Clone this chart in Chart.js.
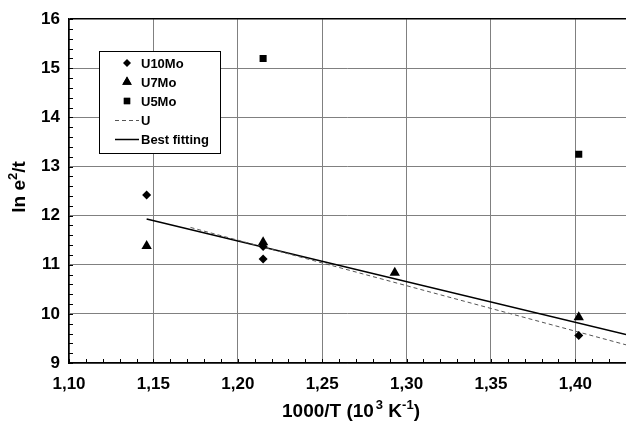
<!DOCTYPE html>
<html>
<head>
<meta charset="utf-8">
<script src="https://cdn.jsdelivr.net/npm/chart.js@4"></script>
<style>
  html, body { margin: 0; padding: 0; background: #fff; }
  #wrap { width: 626px; height: 422px; }
</style>
</head>
<body>
<div id="wrap"><canvas id="chart" width="626" height="422"></canvas></div>
<script>
// values
const u10moX = [1.146, 1.215, 1.215, 1.402]
const u10moY = [12.42, 11.37, 11.12, 9.56]
const u7moX = [1.146, 1.215, 1.293, 1.402]
const u7moY = [11.38, 11.46, 10.84, 9.93]
const u5moX = [1.215, 1.402]
const u5moY = [15.2, 13.25]
const uLineX = [1.172, 1.43]
const uLineY = [11.76, 9.37]
const fitX = [1.146, 1.43]
const fitY = [11.93, 9.58]

const seriesNames = ["U10Mo", "U7Mo", "U5Mo", "U", "Best fitting"]

const FONT = "'Liberation Sans', Arial, sans-serif"

const toPoints = (xs, ys) => xs.map((x, i) => ({ x: x, y: ys[i] }))

const pointSet = (label, xs, ys, style, radius) => ({
  label: label,
  data: toPoints(xs, ys),
  showLine: false,
  pointStyle: style,
  pointRadius: radius,
  pointHoverRadius: radius,
  pointBackgroundColor: "#000",
  pointBorderColor: "#000",
  pointBorderWidth: 0,
})

const lineSet = (label, xs, ys, color, width, dash) => ({
  label: label,
  data: toPoints(xs, ys),
  showLine: true,
  borderColor: color,
  borderWidth: width,
  borderDash: dash,
  pointRadius: 0,
  fill: false,
})

// draws text pieces one after another, some of them raised (superscripts)
const pieceWidth = (ctx, parts) => {
  let w = 0
  parts.forEach(p => {
    ctx.font = "bold " + p[1] + "px " + FONT
    w += ctx.measureText(p[0]).width
  })
  return w
}

const drawPieces = (ctx, parts, x, y) => {
  parts.forEach(p => {
    ctx.font = "bold " + p[1] + "px " + FONT
    ctx.fillText(p[0], x, y + p[2])
    x += ctx.measureText(p[0]).width
  })
}

// small inward ticks + titles with superscripts + legend box
const decorPlugin = {
  id: "decor",
  afterDatasetsDraw(chart) {
    const ctx = chart.ctx
    const xs = chart.scales.x
    const ys = chart.scales.y
    const area = chart.chartArea
    ctx.save()
    ctx.strokeStyle = "#000"
    ctx.lineWidth = 1
    ctx.beginPath()
    for (let k = 110; k <= 143; k++) {
      const px = Math.round(xs.getPixelForValue(k / 100)) + 0.5
      ctx.moveTo(px, area.bottom)
      ctx.lineTo(px, area.bottom - 4)
    }
    for (let k = 45; k <= 80; k++) {
      const py = Math.round(ys.getPixelForValue(k / 5)) + 0.5
      ctx.moveTo(area.left, py)
      ctx.lineTo(area.left + 4, py)
    }
    ctx.stroke()
    ctx.restore()
  },
  afterDraw(chart) {
    const ctx = chart.ctx
    const area = chart.chartArea
    ctx.save()
    ctx.fillStyle = "#000"
    ctx.textBaseline = "alphabetic"

    // x title: 1000/T (10^3 K^-1)
    const xparts = [
      ["1000/T (10", 19, 0],
      [" ", 7, 0],
      ["3", 13, -8],
      [" K", 19, 0],
      ["-1", 13, -8],
      [")", 19, 0],
    ]
    const xw = pieceWidth(ctx, xparts)
    drawPieces(ctx, xparts, 351 - xw / 2, 417)

    // y title: ln e^2/t
    const yparts = [
      ["ln e", 19, 0],
      ["2", 13, -8],
      ["/t", 19, 0],
    ]
    const yw = pieceWidth(ctx, yparts)
    ctx.translate(25, 187)
    ctx.rotate(-Math.PI / 2)
    drawPieces(ctx, yparts, -yw / 2, 0)
    ctx.restore()

    // legend box
    ctx.save()
    const bx = 99.5, by = 51.5, bw = 121, bh = 102
    ctx.fillStyle = "#fff"
    ctx.fillRect(bx, by, bw, bh)
    ctx.strokeStyle = "#000"
    ctx.lineWidth = 1
    ctx.strokeRect(bx, by, bw, bh)
    const rowY = [63, 82, 101, 120, 139]
    ctx.font = "bold 13px " + FONT
    ctx.textBaseline = "middle"
    chart.data.datasets.forEach((ds, i) => {
      const cy = rowY[i]
      if (ds.showLine) {
        ctx.save()
        ctx.strokeStyle = ds.borderColor
        ctx.lineWidth = ds.borderWidth
        ctx.setLineDash(ds.borderDash || [])
        ctx.beginPath()
        ctx.moveTo(115, cy + 0.5)
        ctx.lineTo(139, cy + 0.5)
        ctx.stroke()
        ctx.restore()
      } else {
        Chart.helpers.drawPoint(ctx, {
          pointStyle: ds.pointStyle,
          radius: ds.pointRadius - 0.5,
          borderWidth: 0,
          rotation: 0,
        }, 127, cy)
        ctx.fillStyle = "#000"
        ctx.fill()
      }
      ctx.fillStyle = "#000"
      ctx.fillText(ds.label, 141, cy + 1)
    })
    ctx.restore()
  }
}

new Chart(document.getElementById("chart"), {
  type: "scatter",
  data: {
    datasets: [
      pointSet(seriesNames[0], u10moX, u10moY, "rectRot", 4.5),
      pointSet(seriesNames[1], u7moX, u7moY, "triangle", 6),
      pointSet(seriesNames[2], u5moX, u5moY, "rect", 5),
      lineSet(seriesNames[3], uLineX, uLineY, "#555", 1, [4, 3]),
      lineSet(seriesNames[4], fitX, fitY, "#000", 1.5, []),
    ]
  },
  options: {
    responsive: false,
    animation: false,
    layout: { autoPadding: false, padding: { top: 18, right: 0, bottom: 0, left: 0 } },
    plugins: {
      legend: { display: false },
      tooltip: { enabled: false },
    },
    scales: {
      x: {
        type: "linear",
        min: 1.10,
        max: 1.43,
        afterFit: (scale) => { scale.height = 59 },
        border: { display: true, color: "#000", width: 1.5 },
        grid: { color: "#808080", lineWidth: 1, drawTicks: false },
        ticks: {
          stepSize: 0.05,
          includeBounds: false,
          padding: 11,
          color: "#000",
          font: { family: FONT, size: 17, weight: "bold" },
          callback: v => v.toFixed(2).replace(".", ","),
        },
        title: { display: false },
      },
      y: {
        min: 9,
        max: 16,
        afterFit: (scale) => { scale.width = 69 },
        border: { display: true, color: "#000", width: 1.5 },
        grid: {
          color: c => (c.tick && c.tick.value === 16 ? "#000" : "#808080"),
          lineWidth: c => (c.tick && c.tick.value === 16 ? 1.5 : 1),
          drawTicks: false,
        },
        ticks: {
          stepSize: 1,
          padding: 9,
          color: "#000",
          font: { family: FONT, size: 17, weight: "bold" },
        },
        title: { display: false },
      }
    }
  },
  plugins: [decorPlugin]
})
</script>
</body>
</html>
